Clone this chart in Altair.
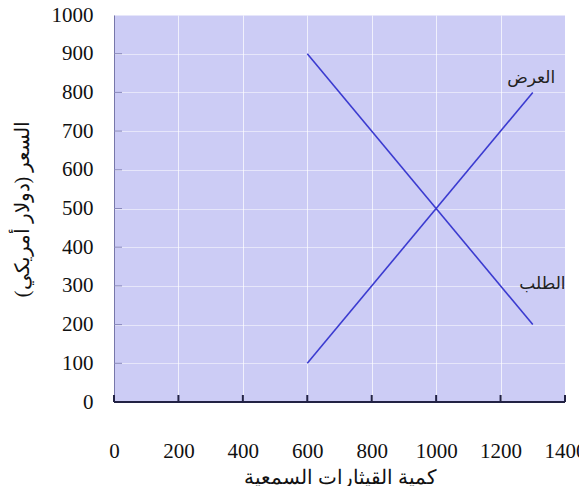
import altair as alt
import pandas as pd

# Data
supply_q = [600, 1300]
supply_p = [100, 800]
demand_q = [600, 1300]
demand_p = [900, 200]
label_text = ["العرض", "الطلب"]
label_q = [1295, 1330]
label_p = [838, 305]
x_ticks = [0, 200, 400, 600, 800, 1000, 1200, 1400]
y_ticks = [0, 100, 200, 300, 400, 500, 600, 700, 800, 900, 1000]

lines = pd.DataFrame({
    "q": supply_q + demand_q,
    "p": supply_p + demand_p,
    "curve": ["supply"] * 2 + ["demand"] * 2,
})
labels = pd.DataFrame({"t": label_text, "q": label_q, "p": label_p})
xt = pd.DataFrame({"q": x_ticks})
yt = pd.DataFrame({"p": y_ticks[1:-1]})

SERIF = "Liberation Serif"
W, H = 451, 387

xscale = alt.Scale(domain=[0, 1400], nice=False)
yscale = alt.Scale(domain=[0, 1000], nice=False)

xaxis = alt.Axis(values=x_ticks, format="d", labelOverlap=False,
                 title="كمية القيثارات السمعية", domain=False,
                 labelPadding=38, titlePadding=6, gridOpacity=0.7)
yaxis = alt.Axis(values=y_ticks, format="d", labelOverlap=False,
                 title="السعر (دولار أمريكي)", domain=True,
                 domainColor="#7777aa", labelPadding=21,
                 titlePadding=19, gridOpacity=0.5)

X = lambda f: alt.X(f, scale=xscale, axis=xaxis)
Y = lambda f: alt.Y(f, scale=yscale, axis=yaxis)

base_lines = alt.Chart(lines).mark_line(color="#3b3bd0", strokeWidth=1.6).encode(
    x=X("q:Q"), y=Y("p:Q"), detail="curve:N",
)

text = alt.Chart(labels).mark_text(fontSize=17, color="#222", font="DejaVu Sans").encode(
    x=X("q:Q"), y=Y("p:Q"), text="t:N")

bottom = alt.Chart(pd.DataFrame({"q": [0], "q2": [1400], "p": [0]})).mark_rule(
    color="#222244", strokeWidth=2).encode(
    x=X("q:Q"), x2="q2:Q", y=Y("p:Q"))

xticks = alt.Chart(xt).mark_rule(color="#222244", strokeWidth=2).encode(
    x=X("q:Q"), y=alt.value(H - 7), y2=alt.value(H))

yticks = alt.Chart(yt).mark_rule(color="#8888bb", strokeWidth=1).encode(
    y=Y("p:Q"), x=alt.value(0), x2=alt.value(8))

chart = alt.layer(base_lines, yticks, text, bottom, xticks).properties(
    width=W, height=H,
    autosize=alt.AutoSizeParams(type="none"),
    padding={"left": 106, "top": 7, "right": 14, "bottom": 84},
    background="white",
).configure_view(fill="#ccccf5", stroke=None).configure_axis(
    labelFont=SERIF, labelFontSize=21, labelColor="#111",
    titleFont=SERIF, titleFontSize=20, titleFontWeight="normal", titleColor="#111",
    ticks=False, labelFlush=False, grid=True, gridColor="white",
)

chart.save("out.html", embed_options={"renderer": "svg", "actions": False})
